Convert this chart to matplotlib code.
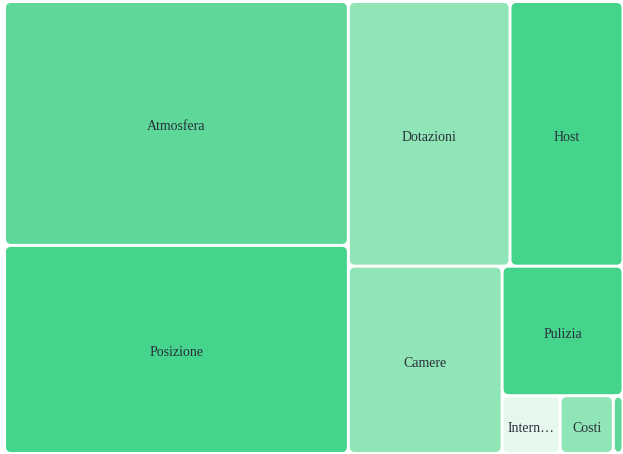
import matplotlib.pyplot as plt
from matplotlib.patches import FancyBboxPatch

# temi citati nelle recensioni (peso = numero di menzioni)
labels = ["Atmosfera", "Posizione", "Dotazioni", "Host", "Camere",
          "Pulizia", "Internet", "Costi", "Rumore"]
values = [300, 256, 153, 107, 103, 56, 12, 11, 2]
colors = ["#5dd898", "#44d48c", "#8fe5b5", "#44d48c", "#8fe5b5",
          "#44d48c", "#e6f8ee", "#8fe5b5", "#5dd898"]

PHI = (1 + 5 ** 0.5) / 2


def squarify(vals, x0, y0, x1, y1, ratio=PHI):
    """Squarified treemap, stesso schema di d3.treemapSquarify."""
    rects = []
    value = float(sum(vals))
    i0 = 0
    n = len(vals)
    while i0 < n:
        dx, dy = x1 - x0, y1 - y0
        i1 = i0 + 1
        s = vals[i0]
        vmin = vmax = s
        alpha = max(dy / dx, dx / dy) / (value * ratio)
        beta = s * s * alpha
        best = max(vmax / beta, beta / vmin)
        while i1 < n:
            v = vals[i1]
            s2 = s + v
            beta = s2 * s2 * alpha
            r = max(max(vmax, v) / beta, beta / min(vmin, v))
            if r > best:
                break
            s, best = s2, r
            vmin, vmax = min(vmin, v), max(vmax, v)
            i1 += 1
        row = vals[i0:i1]
        if dx < dy:
            # riga orizzontale in alto
            yb = y0 + dy * s / value
            cx = x0
            for v in row:
                w = (x1 - x0) * v / s
                rects.append((cx, y0, w, yb - y0))
                cx += w
            y0 = yb
        else:
            # colonna a sinistra
            xb = x0 + dx * s / value
            cy = y0
            for v in row:
                h = (y1 - y0) * v / s
                rects.append((x0, cy, xb - x0, h))
                cy += h
            x0 = xb
        value -= s
        i0 = i1
    return rects


W, H = 623, 454
rects = squarify(values, 4.5, 1.5, 623, 453.5)

fig = plt.figure(figsize=(W / 100, H / 100), dpi=100)
ax = fig.add_axes([0, 0, 1, 1])
ax.set_xlim(0, W)
ax.set_ylim(H, 0)
ax.axis("off")

gap = 1.5
renderer = fig.canvas.get_renderer()
for (rx, ry, rw, rh), lab, col in zip(rects, labels, colors):
    ax.add_patch(FancyBboxPatch((rx + gap, ry + gap), rw - 2 * gap, rh - 2 * gap,
                                boxstyle="round,pad=0,rounding_size=5",
                                facecolor=col, edgecolor="none"))
    box_w = rw - 2 * gap
    t = ax.text(rx + rw / 2, ry + rh / 2 + 3.5, lab, ha="center", va="center",
                fontsize=10, family="Liberation Serif", color="#2a2f3c")
    if box_w < 30:
        t.remove()
        continue
    # etichetta troppo larga: tronca con i puntini
    if t.get_window_extent(renderer).width > box_w - 14:
        txt = lab
        t.set_text(txt + "…")
        while t.get_window_extent(renderer).width > box_w - 4 and len(txt) > 1:
            txt = txt[:-1]
            t.set_text(txt + "…")

fig.savefig("out.png", dpi=100)
